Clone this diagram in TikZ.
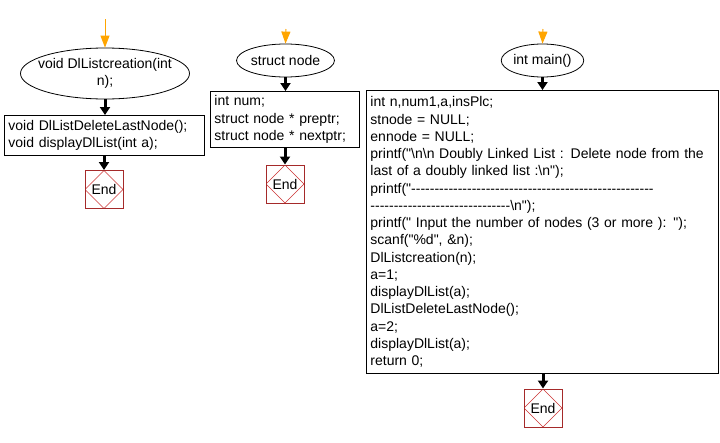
\documentclass[tikz,border=0pt]{standalone}
\usepackage{fontspec}
\setmainfont[Ligatures=TeXOff]{Liberation Sans}
\usetikzlibrary{shapes.geometric,arrows.meta}
\definecolor{endred}{HTML}{A52A2A}
\definecolor{diared}{HTML}{CC3333}
\definecolor{startor}{HTML}{FFA500}
\tikzset{
  txt/.style={font=\fontsize{14}{17.25}\selectfont},
  startel/.style={draw, ellipse, line width=0.8pt, inner sep=0pt, txt},
  codebox/.style={draw, line width=0.9pt, anchor=north west, align=left, inner sep=4pt, txt},
  endbox/.style={draw=endred, line width=0.9pt, minimum width=38pt, minimum height=38pt, inner sep=0pt, txt,
    path picture={\draw[diared, line width=0.5pt] (path picture bounding box.north) -- (path picture bounding box.east) -- (path picture bounding box.south) -- (path picture bounding box.west) -- cycle;}},
  flow/.style={line width=3pt, -{Triangle[width=10pt,length=8pt]}},
  entry/.style={startor, line width=1pt, -{Triangle[width=9pt,length=12pt]}},
}
\begin{document}
\begin{tikzpicture}[x=1pt,y=-1pt]
\useasboundingbox (0,0) rectangle (720,442);
\fill[white] (0,0) rectangle (720,442);

% left column
\coordinate (e1) at (105,19);
\node[startel, minimum width=169pt, minimum height=51pt,
  label={[txt, align=center]center:void DlListcreation(int\\n);}] (s1) at (105,73.5) {};
\node[codebox, text width=192pt, minimum height=40pt] (b1) at (4,115)
  {void DlListDeleteLastNode();\\void displayDlList(int a);};
\node[endbox] (end1) at (104,189.5) {End};
\draw[entry] (e1) -- (s1.north);
\draw[flow] (s1.south) -- (b1.north -| s1.south);
\draw[flow] (b1.south -| end1.north) -- (end1.north);

% middle column
\coordinate (e2) at (286,29);
\node[startel, minimum width=91pt, minimum height=33pt] (s2) at (285.5,60.5) {struct node};
\node[codebox, text width=141pt, minimum height=56pt] (b2) at (210,91)
  {int num;\\struct node * preptr;\\struct node * nextptr;};
\node[endbox] (end2) at (285,184) {End};
\draw[entry] (e2) -- (s2.north);
\draw[flow] (s2.south) -- (b2.north -| s2.south);
\draw[flow] (b2.south -| end2.north) -- (end2.north);

% right column
\coordinate (e3) at (543,29);
\node[startel, minimum width=81pt, minimum height=33pt] (s3) at (542.5,60.5) {int main()};
\node[codebox, text width=344pt, minimum height=283pt] (b3) at (366,90)
  {int n,num1,a,insPlc;\\
   stnode = NULL;\\
   ennode = NULL;\\
   printf("\textbackslash n\textbackslash n Doubly Linked List : Delete node from the\\
   last of a doubly linked list :\textbackslash n");\\
   printf("----------------------------------------------------\\
   ------------------------------\textbackslash n");\\
   printf(" Input the number of nodes (3 or more ): ");\\
   scanf("\%d", \&n);\\
   DlListcreation(n);\\
   a=1;\\
   displayDlList(a);\\
   DlListDeleteLastNode();\\
   a=2;\\
   displayDlList(a);\\
   return 0;};
\node[endbox] (end3) at (543,408) {End};
\draw[entry] (e3) -- (s3.north);
\draw[flow] (s3.south) -- (b3.north -| s3.south);
\draw[flow] (b3.south -| end3.north) -- (end3.north);
\end{tikzpicture}
\end{document}
